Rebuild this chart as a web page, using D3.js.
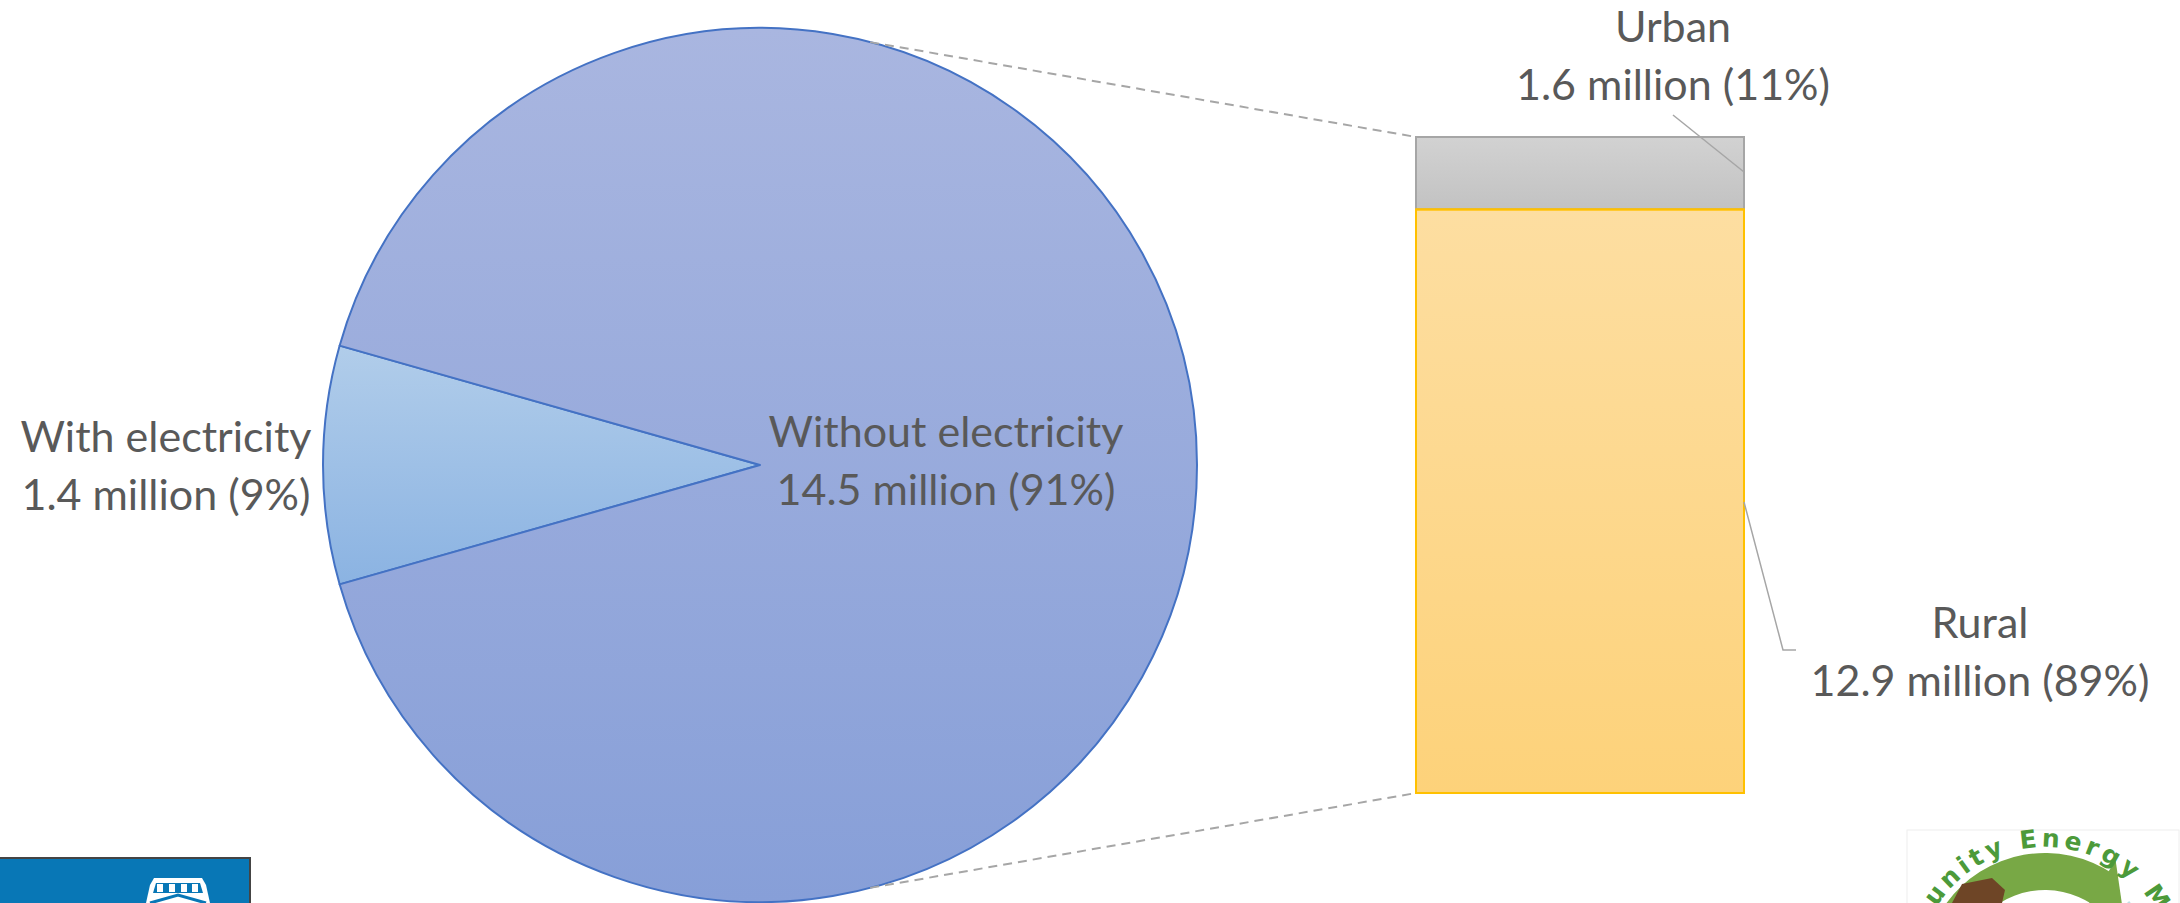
<!DOCTYPE html>
<html>
<head>
<meta charset="utf-8">
<script src="https://cdn.jsdelivr.net/npm/d3@7"></script>
<style>
  html, body { margin: 0; padding: 0; background: #fff; }
  svg { display: block; font-family: Lato, Carlito, Calibri, "Open Sans", sans-serif; }
</style>
</head>
<body>
<svg id="chart" width="2180" height="903"></svg>
<script>
// pie: population by access to electricity (millions)
const pieLabels = ['With electricity', 'Without electricity'];
const pieValues = [1.4, 14.5];
const piePercents = ['9%', '91%'];

// bar: the "without electricity" slice split by area (millions)
const barLabels = ['Urban', 'Rural'];
const barValues = [1.6, 12.9];
const barPercents = ['11%', '89%'];

const svg = d3.select('#chart');
const defs = svg.append('defs');

const grad = (id, top, bottom) => {
  const g = defs.append('linearGradient').attr('id', id)
    .attr('x1', 0).attr('y1', 0).attr('x2', 0).attr('y2', 1);
  g.append('stop').attr('offset', '0%').attr('stop-color', top);
  g.append('stop').attr('offset', '100%').attr('stop-color', bottom);
};
grad('gWith', '#b1cdea', '#8bb3e2');
grad('gWithout', '#a9b6e0', '#879fd8');
grad('gUrban', '#d2d2d2', '#c2c2c2');
grad('gRural', '#fddea1', '#fdd27a');

const textColor = '#595959';
const fontSize = 43;
const lineGap = 58;

// ---- pie ----
const cx = 760, cy = 465, r = 437;
const total = d3.sum(pieValues);
const smallAngle = pieValues[0] / total * 2 * Math.PI;
const start = 1.5 * Math.PI - smallAngle / 2;

const pie = d3.pie().sort(null).startAngle(start).endAngle(start + 2 * Math.PI);
const arc = d3.arc().innerRadius(0).outerRadius(r);
const arcs = pie(pieValues);

const gPie = svg.append('g').attr('transform', `translate(${cx},${cy})`);
gPie.selectAll('path')
  .data(arcs)
  .join('path')
  .attr('d', arc)
  .attr('fill', (d, i) => i === 0 ? 'url(#gWith)' : 'url(#gWithout)')
  .attr('stroke', '#4472c4')
  .attr('stroke-width', 2)
  .attr('stroke-linejoin', 'round');

// ---- stacked bar ----
const barX = 1416, barW = 328;
const y = d3.scaleLinear().domain([0, d3.sum(barValues)]).range([137, 793]);
const stack = [];
let acc = 0;
barValues.forEach((v, i) => { stack.push({ label: barLabels[i], v, y0: acc, y1: acc + v, i }); acc += v; });

svg.append('g').selectAll('rect')
  .data(stack)
  .join('rect')
  .attr('x', barX)
  .attr('y', d => y(d.y0))
  .attr('width', barW)
  .attr('height', d => y(d.y1) - y(d.y0))
  .attr('fill', d => d.i === 0 ? 'url(#gUrban)' : 'url(#gRural)')
  .attr('stroke', d => d.i === 0 ? '#a6a6a6' : '#ffc000')
  .attr('stroke-width', 2);
// shared edge drawn in the rural colour
svg.append('line')
  .attr('x1', barX).attr('x2', barX + barW)
  .attr('y1', y(stack[1].y0)).attr('y2', y(stack[1].y0))
  .attr('stroke', '#ffc000').attr('stroke-width', 2);

// ---- connector lines pie -> bar ----
const connAngle = 14.6 * Math.PI / 180;
const onCircle = a => [cx + r * Math.sin(a), cy - r * Math.cos(a)];
const conns = [
  [onCircle(connAngle), [barX, y(0)]],
  [onCircle(Math.PI - connAngle), [barX, y(d3.sum(barValues))]]
];
svg.append('g').selectAll('line')
  .data(conns)
  .join('line')
  .attr('x1', d => d[0][0]).attr('y1', d => d[0][1])
  .attr('x2', d => d[1][0]).attr('y2', d => d[1][1])
  .attr('stroke', '#a6a6a6')
  .attr('stroke-width', 2)
  .attr('stroke-dasharray', '9,6');

// ---- leader lines ----
const leader = d3.line();
svg.append('path')
  .attr('d', leader([[1673, 115], [barX + barW, 172]]))
  .attr('fill', 'none').attr('stroke', '#a6a6a6').attr('stroke-width', 1.5);
svg.append('path')
  .attr('d', leader([[barX + barW, 502], [1783, 650], [1796, 650]]))
  .attr('fill', 'none').attr('stroke', '#a6a6a6').attr('stroke-width', 1.5);

// ---- labels (one text element per line) ----
const labels = [
  { x: 166, y: 452, lines: [pieLabels[0], `${pieValues[0]} million (${piePercents[0]})`] },
  { x: 946, y: 447, lines: [pieLabels[1], `${pieValues[1]} million (${piePercents[1]})`] },
  { x: 1673, y: 42, lines: [barLabels[0], `${barValues[0]} million (${barPercents[0]})`] },
  { x: 1980, y: 638, lines: [barLabels[1], `${barValues[1]} million (${barPercents[1]})`] }
];
const labelLines = labels.flatMap(l => l.lines.map((s, k) => ({ x: l.x, y: l.y + k * lineGap, s })));
svg.append('g')
  .attr('fill', textColor)
  .attr('font-size', fontSize)
  .attr('text-anchor', 'middle')
  .selectAll('text')
  .data(labelLines)
  .join('text')
  .attr('x', d => d.x)
  .attr('y', d => d.y)
  .text(d => d.s);

// ---- logos (partially visible at the bottom) ----
const logoL = svg.append('g');
logoL.append('rect').attr('x', -2).attr('y', 858).attr('width', 252).attr('height', 60)
  .attr('fill', '#0877b6').attr('stroke', '#444').attr('stroke-width', 2);
logoL.append('path')
  .attr('d', 'M150,885 L154,878 L202,878 L206,885 L210,903 L146,903 Z')
  .attr('fill', '#fff');
logoL.append('path')
  .attr('d', 'M156,883 L200,883 L203,893 L153,893 Z')
  .attr('fill', '#0877b6');
[160, 172, 184, 195].forEach(x => {
  logoL.append('rect').attr('x', x - 3).attr('y', 884).attr('width', 6).attr('height', 8)
    .attr('fill', '#fff');
});
logoL.append('path').attr('d', 'M150,903 L178,895 L206,903').attr('fill', 'none')
  .attr('stroke', '#0877b6').attr('stroke-width', 3);

const logoR = svg.append('g');
logoR.append('rect').attr('x', 1907).attr('y', 830).attr('width', 272).attr('height', 80)
  .attr('fill', '#fff').attr('stroke', '#eee').attr('stroke-width', 1);
const lc = [2045, 975];
const logoArc = d3.arc();
logoR.append('path')
  .attr('transform', `translate(${lc})`)
  .attr('d', logoArc({ innerRadius: 50, outerRadius: 112, startAngle: 0.85, endAngle: 1.9 }))
  .attr('fill', '#bfe0e6');
logoR.append('path')
  .attr('transform', `translate(${lc})`)
  .attr('d', logoArc({ innerRadius: 85, outerRadius: 122, startAngle: -0.95, endAngle: 0.6 }))
  .attr('fill', '#78a845');
// arrow head
const ah = a => [lc[0] + Math.sin(a[0]) * a[1], lc[1] - Math.cos(a[0]) * a[1]];
logoR.append('path')
  .attr('d', d3.line()([ah([0.55, 135]), ah([0.85, 103]), ah([0.55, 72])]))
  .attr('fill', '#78a845');
logoR.append('path')
  .attr('d', 'M1952,903 L1962,884 L1992,878 L2005,890 L2002,903 Z')
  .attr('fill', '#6e4526');
const tr = 128;
logoR.append('path').attr('id', 'logoTextArc')
  .attr('d', `M${lc[0] - tr * Math.sin(2.4)},${lc[1] - tr * Math.cos(2.4)} A${tr},${tr} 0 1,1 ${lc[0] + tr * Math.sin(2.4)},${lc[1] - tr * Math.cos(2.4)}`)
  .attr('fill', 'none');
logoR.append('text')
  .attr('fill', '#4c9a3a')
  .attr('font-size', 25)
  .attr('font-weight', 'bold')
  .attr('font-family', '"DejaVu Sans", sans-serif')
  .attr('letter-spacing', 4)
  .attr('text-anchor', 'middle')
  .append('textPath')
  .attr('href', '#logoTextArc')
  .attr('startOffset', '50%')
  .text('Community Energy Malawi');
</script>
</body>
</html>
